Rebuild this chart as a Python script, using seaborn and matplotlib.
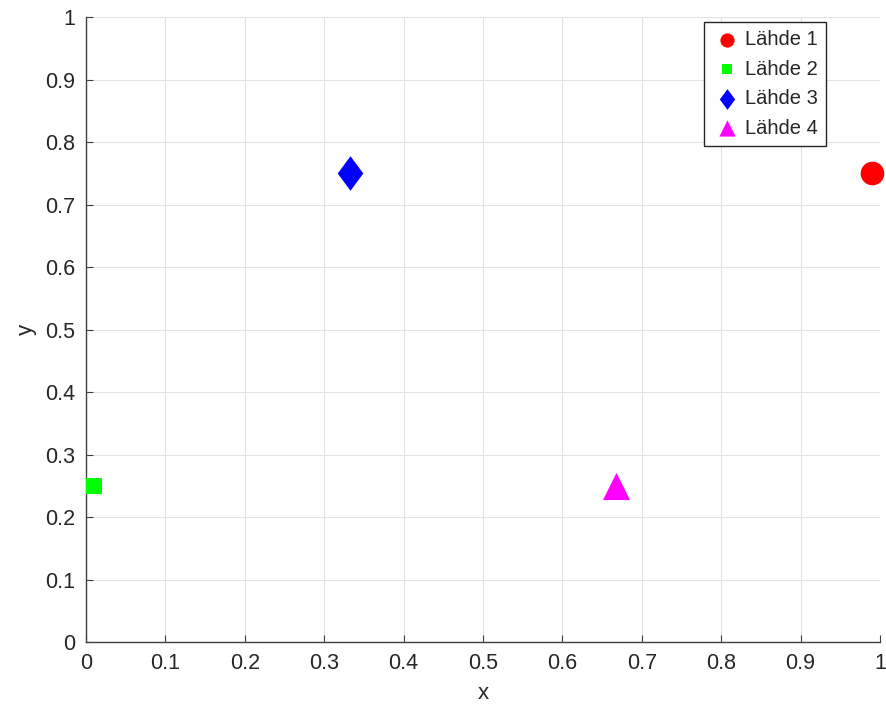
import numpy as np
import pandas as pd
import seaborn as sns
import matplotlib.pyplot as plt

# Source points
labels = ['Lähde 1', 'Lähde 2', 'Lähde 3', 'Lähde 4']
x_vals = [0.99, 0.01, 0.333, 0.667]
y_vals = [0.75, 0.25, 0.75, 0.25]

data = pd.DataFrame({'x': x_vals, 'y': y_vals, 'source': labels})

sns.set_style('ticks')
plt.rcParams['font.family'] = ['Liberation Sans', 'DejaVu Sans']

fig = plt.figure(figsize=(8.87, 7.16), dpi=100)
ax = fig.add_axes([0.097, 0.103, 0.895, 0.873])

# MATLAB-like diamond (a bit wider than matplotlib's thin diamond)
diamond = [(0, 1), (0.74, 0), (0, -1), (-0.74, 0), (0, 1)]

colors = {'Lähde 1': '#ff0000', 'Lähde 2': '#00ff00', 'Lähde 3': '#0000ff', 'Lähde 4': '#ff00ff'}
markers = {'Lähde 1': 'o', 'Lähde 2': 's', 'Lähde 3': diamond, 'Lähde 4': '^'}
sizes = {'Lähde 1': 290, 'Lähde 2': 140, 'Lähde 3': 620, 'Lähde 4': 380}

for name in labels:
    sub = data[data['source'] == name]
    sns.scatterplot(data=sub, x='x', y='y', color=colors[name], marker=markers[name],
                    s=sizes[name], linewidth=0, label=name, ax=ax, zorder=3, clip_on=False)

ticks = np.round(np.arange(0, 1.01, 0.1), 1)
tick_labels = ['0' if t == 0 else ('1' if t == 1 else f'{t:g}') for t in ticks]
ax.set_xlim(0, 1)
ax.set_ylim(0, 1)
ax.set_xticks(ticks)
ax.set_yticks(ticks)
ax.set_xticklabels(tick_labels)
ax.set_yticklabels(tick_labels)
ax.tick_params(direction='in', length=5, color='#404040', labelsize=15.5, labelcolor='#262626', pad=8)
ax.grid(True, color='#e3e3e3', linewidth=0.8)
ax.set_axisbelow(True)
for side in ['top', 'right']:
    ax.spines[side].set_visible(False)
for side in ['left', 'bottom']:
    ax.spines[side].set_color('#404040')
    ax.spines[side].set_linewidth(1.0)

ax.set_xlabel('x', fontsize=16, color='#262626', labelpad=6)
ax.set_ylabel('y', fontsize=16, color='#262626', labelpad=6)

leg = ax.legend(loc='upper right', bbox_to_anchor=(0.932, 0.992), fontsize=14.5, frameon=True,
                fancybox=False, edgecolor='#262626', framealpha=1, handletextpad=0.15,
                handlelength=1.5, borderpad=0.4, labelspacing=0.52, markerscale=0.6,
                borderaxespad=0)
leg.get_frame().set_linewidth(1.0)

fig.savefig('out.png', dpi=100)
